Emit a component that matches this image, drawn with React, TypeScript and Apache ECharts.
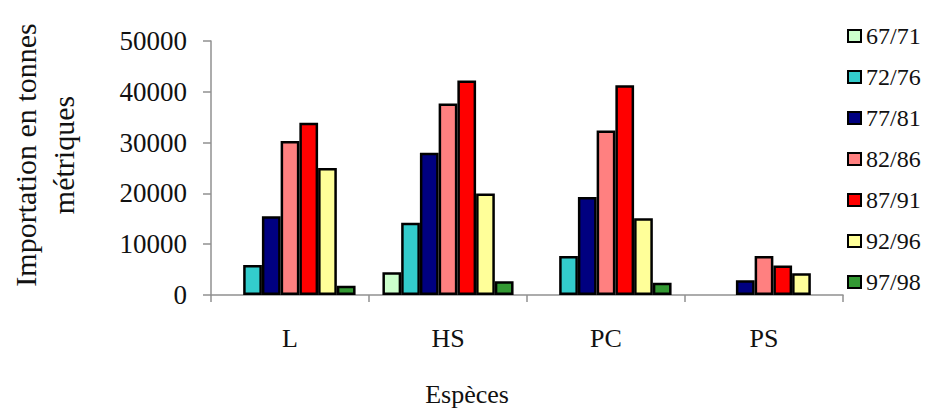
import React, { useEffect, useRef } from "react";
import * as echarts from "echarts";

const categories = ["L", "HS", "PC", "PS"];
const seriesNames = ["67/71", "72/76", "77/81", "82/86", "87/91", "92/96", "97/98"];
const seriesColors = ["#CCFFCC", "#33CCCC", "#000080", "#FF8080", "#FF0000", "#FFFF99", "#339933"];

const s6771 = [null, 4500, null, null];
const s7276 = [5900, 14200, 7700, null];
const s7781 = [15500, 28000, 19300, 2900];
const s8286 = [30300, 37700, 32400, 7700];
const s8791 = [33900, 42200, 41300, 5800];
const s9296 = [25000, 20000, 15100, 4300];
const s9798 = [1800, 2700, 2400, null];

const seriesValues = [s6771, s7276, s7781, s8286, s8791, s9296, s9798];
const yTicks = { min: 0, max: 50000, interval: 10000 };

const FONT = '"Liberation Serif", "DejaVu Serif", serif';

export default function App() {
  const ref = useRef<HTMLDivElement>(null);

  useEffect(() => {
    if (!ref.current) return;
    const chart = echarts.init(ref.current, null, { renderer: "svg" });
    chart.setOption({
      animation: false,
      backgroundColor: "#ffffff",
      grid: { left: 211, right: 86, top: 41, bottom: 115, containLabel: false },
      legend: {
        orient: "vertical",
        left: 842,
        top: 19,
        itemWidth: 13,
        itemHeight: 12,
        itemGap: 17,
        icon: "rect",
        data: seriesNames,
        textStyle: { fontFamily: FONT, fontSize: 24, lineHeight: 24, color: "#111" },
      },
      xAxis: {
        type: "category",
        data: categories,
        axisLine: { lineStyle: { color: "#909090", width: 1.5 } },
        axisTick: { show: true, length: 7, inside: false, lineStyle: { color: "#909090", width: 1.5 } },
        axisLabel: { fontFamily: FONT, fontSize: 26, color: "#111", margin: 30 },
      },
      yAxis: {
        type: "value",
        min: yTicks.min,
        max: yTicks.max,
        interval: yTicks.interval,
        axisLine: { show: true, lineStyle: { color: "#909090", width: 1.5 } },
        axisTick: { show: true, length: 8, inside: false, lineStyle: { color: "#909090", width: 1.5 } },
        splitLine: { show: false },
        axisLabel: {
          fontFamily: FONT,
          fontSize: 27,
          color: "#111",
          margin: 24,
          formatter: (v: number) => String(v),
        },
      },
      graphic: [
        {
          type: "text",
          x: 44,
          y: 155,
          rotation: Math.PI / 2,
          style: {
            text: "Importation en tonnes\nmétriques",
            align: "center",
            verticalAlign: "middle",
            fontFamily: FONT,
            fontSize: 30,
            lineHeight: 38,
            fill: "#111",
          },
        },
        {
          type: "text",
          x: 467,
          y: 394,
          style: {
            text: "Espèces",
            align: "center",
            verticalAlign: "middle",
            fontFamily: FONT,
            fontSize: 26,
            fill: "#111",
          },
        },
      ],
      series: seriesNames.map((name, i) => ({
        name,
        type: "bar",
        data: seriesValues[i],
        barGap: "0%",
        barCategoryGap: "17%",
        itemStyle: { color: seriesColors[i], borderColor: "#000", borderWidth: 2.5 },
      })),
    });
    return () => chart.dispose();
  }, []);

  return (
    <div
      ref={ref}
      style={{ position: "fixed", left: 0, top: 0, width: 929, height: 410, background: "#fff" }}
    />
  );
}
